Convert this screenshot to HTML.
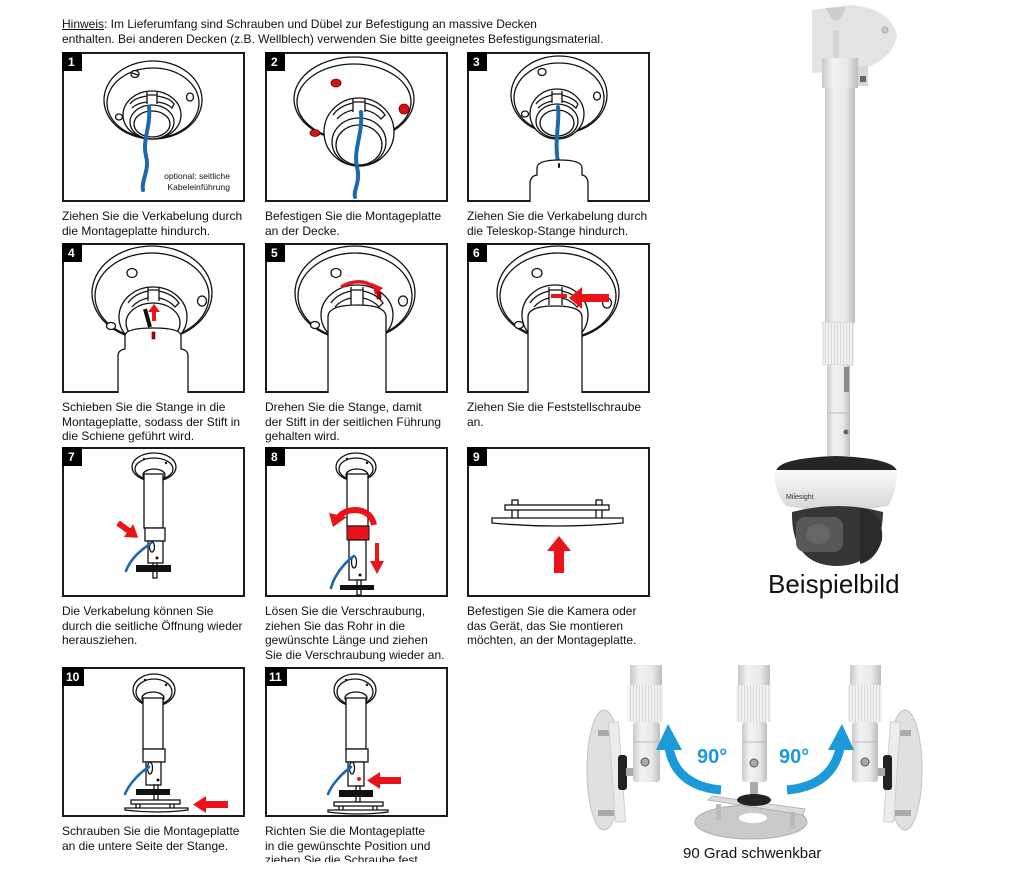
<!DOCTYPE html>
<html><head><meta charset="utf-8">
<style>
html,body{margin:0;padding:0;background:#fff}
body{width:1019px;height:876px;position:relative;overflow:hidden;font-family:"Liberation Sans",Arial,sans-serif;color:#111}
.t{position:absolute;font-size:12px;line-height:14.6px;white-space:nowrap}
svg{position:absolute;left:0;top:0}
</style></head><body>
<svg width="1019" height="876" viewBox="0 0 1019 876" xmlns="http://www.w3.org/2000/svg">
<defs>
<style>
.l{fill:#fff;stroke:#111;stroke-width:1.3}
.n{fill:none;stroke:#111;stroke-width:1.3}
.bx{fill:none;stroke:#1a1a1a;stroke-width:2}
.lb{fill:#000}
.lt{fill:#fff;font:bold 12px "Liberation Sans",Arial,sans-serif}
.cb{fill:none;stroke:#1f68ab;stroke-width:4;stroke-linecap:round}
.cb2{fill:none;stroke:#1f68ab;stroke-width:2.6;stroke-linecap:round}
.r{fill:#e8141a}
.k{fill:#111}
</style>
<linearGradient id="pg" x1="0" x2="1" y1="0" y2="0"><stop offset="0" stop-color="#c9c9c9"/><stop offset=".3" stop-color="#f2f2f2"/><stop offset=".7" stop-color="#e8e8e8"/><stop offset="1" stop-color="#bdbdbd"/></linearGradient>
<linearGradient id="bg" x1="0" x2="0" y1="0" y2="1"><stop offset="0" stop-color="#fafafa"/><stop offset="1" stop-color="#d6d6d6"/></linearGradient>
<pattern id="rib" width="3" height="10" patternUnits="userSpaceOnUse"><rect width="3" height="10" fill="#f1f1f1"/><rect width="1" height="10" fill="#d8d8d8"/></pattern>
</defs>

<!-- Panel boxes -->
<rect class="bx" x="63" y="53" width="181" height="148"/>
<rect class="bx" x="266" y="53" width="181" height="148"/>
<rect class="bx" x="468" y="53" width="181" height="148"/>
<rect class="bx" x="63" y="244" width="181" height="148"/>
<rect class="bx" x="266" y="244" width="181" height="148"/>
<rect class="bx" x="468" y="244" width="181" height="148"/>
<rect class="bx" x="63" y="448" width="181" height="148"/>
<rect class="bx" x="266" y="448" width="181" height="148"/>
<rect class="bx" x="468" y="448" width="181" height="148"/>
<rect class="bx" x="63" y="668" width="181" height="148"/>
<rect class="bx" x="266" y="668" width="181" height="148"/>

<!-- Panel 1 -->
<g transform="translate(62,52)">
<ellipse class="l" cx="91" cy="48" rx="49" ry="39"/>
<ellipse class="n" cx="91" cy="51" rx="46" ry="35"/>
<ellipse class="l" cx="73" cy="22" rx="4" ry="3.5"/><path class="n" d="M70 21 L76 23"/>
<ellipse class="l" cx="128" cy="45" rx="3.5" ry="4"/>
<ellipse class="l" cx="57" cy="65" rx="3.5" ry="3"/>
<ellipse class="l" cx="90" cy="63" rx="29" ry="24"/>
<path class="n" d="M68 52 Q72 46 85 44 L85 50 Q75 51 70 56 M95 44 Q108 46 112 52 L110 56 Q105 51 95 50 M85 40 L85 52 M95 40 L95 52 M85 43 L95 43"/>
<ellipse class="l" cx="90" cy="70" rx="22" ry="17"/>
<ellipse class="n" cx="90" cy="72" rx="18" ry="13"/>
<path class="cb" d="M87 55 C89 75 80 88 84 104 C88 118 79 128 81 138"/>
<text x="168" y="127" text-anchor="end" font-family="Liberation Sans,Arial,sans-serif" font-size="8.6" fill="#111">optional: seitliche</text>
<text x="168" y="138" text-anchor="end" font-family="Liberation Sans,Arial,sans-serif" font-size="8.6" fill="#111">Kabeleinführung</text>
<rect class="lb" x="0" y="0" width="20" height="19"/><text class="lt" x="6" y="14">1</text>
</g>

<!-- Panel 2 -->
<g transform="translate(265,52)">
<ellipse class="l" cx="89" cy="47" rx="60" ry="42"/>
<ellipse class="n" cx="89" cy="50" rx="57" ry="38"/>
<ellipse class="l" cx="94" cy="80" rx="35" ry="34"/>
<path class="n" d="M68 63 Q74 54 88 51 L88 58 Q78 60 72 67 M100 51 Q114 54 120 63 L116 67 Q110 60 100 58 M88 46 L88 60 M100 46 L100 60 M88 50 L100 50"/>
<ellipse class="l" cx="94" cy="90" rx="27" ry="24"/>
<ellipse class="n" cx="94" cy="93" rx="23" ry="20"/>
<ellipse cx="71" cy="31" rx="5" ry="4" fill="#d01414" stroke="#700" stroke-width=".8"/>
<ellipse cx="139" cy="57" rx="5" ry="5" fill="#d01414" stroke="#700" stroke-width=".8"/>
<ellipse cx="50" cy="81" rx="5" ry="3.5" fill="#d01414" stroke="#700" stroke-width=".8"/>
<path class="cb" d="M96 60 C98 82 88 98 92 115 C96 130 88 138 90 145"/>
<rect class="lb" x="0" y="0" width="20" height="19"/><text class="lt" x="6" y="14">2</text>
</g>

<!-- Panel 3 -->
<g transform="translate(467,52)">
<ellipse class="l" cx="92" cy="43" rx="48" ry="39"/>
<ellipse class="n" cx="92" cy="46" rx="45" ry="35"/>
<ellipse class="l" cx="75" cy="20" rx="4" ry="3.5"/>
<ellipse class="l" cx="130" cy="44" rx="3.5" ry="4"/>
<ellipse class="l" cx="58" cy="62" rx="3.5" ry="3"/>
<ellipse class="l" cx="90" cy="62" rx="27" ry="25"/>
<path class="n" d="M69 52 Q73 46 85 43 L85 49 Q76 51 71 56 M95 43 Q107 46 111 52 L109 56 Q104 51 95 49 M85 39 L85 51 M95 39 L95 51 M85 42 L95 42"/>
<ellipse class="l" cx="90" cy="69" rx="21" ry="17"/>
<ellipse class="n" cx="90" cy="71" rx="17" ry="13"/>
<path class="cb" d="M91 55 C93 70 87 88 91 110"/>
<path class="l" d="M63 150 L63 132 Q63 124 70 123 L70 116 Q70 108 92.5 108 Q115 108 115 116 L115 123 Q121 124 121 132 L121 150"/>
<rect x="91" y="111" width="2" height="5" rx="1" fill="#111"/>
<rect class="lb" x="0" y="0" width="20" height="19"/><text class="lt" x="6" y="14">3</text>
</g>

<!-- Panel 4 -->
<g transform="translate(62,243)">
<ellipse class="l" cx="90" cy="50" rx="60" ry="47"/>
<ellipse class="n" cx="90" cy="53" rx="57" ry="43"/>
<ellipse class="l" cx="70" cy="30" rx="5" ry="4.5"/>
<ellipse class="l" cx="140" cy="58" rx="4.5" ry="5"/>
<ellipse class="l" cx="49" cy="83" rx="4.5" ry="3.5"/>
<ellipse class="l" cx="91" cy="74" rx="34" ry="30"/>
<path class="n" d="M66 60 Q72 51 86 48 L86 55 Q76 57 70 64 M97 48 Q111 51 117 60 L113 64 Q107 57 97 55 M86 44 L86 58 M97 44 L97 58 M86 47 L97 47"/>
<ellipse class="l" cx="91" cy="80" rx="27" ry="20"/>
<path d="M83 66 L88 84" stroke="#111" stroke-width="4"/>
<path class="l" d="M56 150 L56 113 Q56 107 63 106 L63 93 Q63 85 91 85 Q119 85 119 93 L119 106 Q126 107 126 113 L126 150"/>
<rect class="r" x="90" y="68" width="4" height="10"/><polygon class="r" points="86,69 98,69 92,61"/>
<rect x="90" y="89" width="3" height="7" fill="#c00" stroke="#300" stroke-width=".6"/>
<rect class="lb" x="0" y="0" width="20" height="19"/><text class="lt" x="6" y="14">4</text>
</g>

<!-- Panel 5 -->
<g transform="translate(265,243)">
<ellipse class="l" cx="90" cy="50" rx="60" ry="47"/>
<ellipse class="n" cx="90" cy="53" rx="57" ry="43"/>
<ellipse class="l" cx="71" cy="30" rx="5" ry="4.5"/>
<ellipse class="l" cx="138" cy="58" rx="4.5" ry="5"/>
<ellipse class="l" cx="50" cy="82" rx="4.5" ry="3.5"/>
<ellipse class="l" cx="92" cy="72" rx="36" ry="30"/>
<path class="n" d="M66 60 Q72 51 86 48 L86 55 Q76 57 70 64 M98 48 Q112 51 118 60 L114 64 Q108 57 98 55 M86 44 L86 62 M98 44 L98 62 M86 47 L98 47"/>
<path class="l" d="M63 150 L63 74 Q63 62 92 62 Q121 62 121 74 L121 150"/>
<path d="M76 44 Q95 33 111 45" fill="none" stroke="#e8141a" stroke-width="3.5"/>
<polygon class="r" points="107,40 118,45 110,52"/>
<rect x="112" y="49" width="4" height="7" fill="#a00" stroke="#300" stroke-width=".6"/>
<rect class="lb" x="0" y="0" width="20" height="19"/><text class="lt" x="6" y="14">5</text>
</g>

<!-- Panel 6 -->
<g transform="translate(467,243)">
<ellipse class="l" cx="91" cy="50" rx="61" ry="47"/>
<ellipse class="n" cx="91" cy="53" rx="58" ry="43"/>
<ellipse class="l" cx="70" cy="30" rx="5" ry="4.5"/>
<ellipse class="l" cx="140" cy="60" rx="4.5" ry="5"/>
<ellipse class="l" cx="52" cy="82" rx="4.5" ry="3.5"/>
<ellipse class="l" cx="88" cy="72" rx="33" ry="30"/>
<path class="n" d="M63 60 Q69 51 82 48 L82 55 Q73 57 67 64 M95 48 Q108 51 114 60 L110 64 Q104 57 95 55 M82 44 L82 62 M95 44 L95 62 M82 47 L95 47"/>
<path class="l" d="M61 150 L61 74 Q61 63 88 63 Q115 63 115 74 L115 150"/>
<rect class="r" x="84" y="51" width="16" height="4"/>
<rect class="r" x="113" y="51" width="29" height="8"/><polygon class="r" points="115,44 115,66 102,55"/>
<rect class="lb" x="0" y="0" width="20" height="19"/><text class="lt" x="6" y="14">6</text>
</g>

<!-- Panel 7 -->
<g transform="translate(62,447)">
<ellipse class="l" cx="92" cy="20" rx="22" ry="14"/>
<ellipse class="n" cx="92" cy="22" rx="19" ry="11"/>
<circle cx="82" cy="12" r="1.2" fill="#111"/><circle cx="104" cy="16" r="1.2" fill="#111"/>
<ellipse class="l" cx="92" cy="28" rx="11" ry="6"/>
<rect class="l" x="82" y="27" width="19" height="54"/>
<rect class="l" x="83" y="81" width="20" height="13"/>
<rect class="l" x="86" y="94" width="15" height="22"/>
<ellipse class="l" cx="90" cy="100" rx="2.5" ry="5"/>
<circle cx="95" cy="111" r="1.5" fill="#111"/>
<rect class="l" x="91" y="116" width="4" height="15"/>
<rect class="k" x="74" y="118" width="35" height="7"/>
<path class="cb2" d="M89 96 C84 100 70 108 64 124"/>
<g transform="translate(56,76) rotate(36)"><rect class="r" x="0" y="-3" width="15" height="6"/><polygon class="r" points="13,-8 13,8 25,0"/></g>
<rect class="lb" x="0" y="0" width="20" height="19"/><text class="lt" x="6" y="14">7</text>
</g>

<!-- Panel 8 -->
<g transform="translate(265,447)">
<ellipse class="l" cx="91" cy="20" rx="20" ry="14"/>
<ellipse class="n" cx="91" cy="22" rx="17" ry="11"/>
<circle cx="82" cy="12" r="1.2" fill="#111"/><circle cx="102" cy="16" r="1.2" fill="#111"/>
<ellipse class="l" cx="92" cy="28" rx="11" ry="6"/>
<rect class="l" x="82" y="27" width="21" height="52"/>
<rect x="82" y="79" width="22" height="14" fill="#e8141a" stroke="#111" stroke-width="1"/>
<rect class="l" x="84" y="93" width="17" height="40"/>
<ellipse class="l" cx="89" cy="115" rx="2.5" ry="6"/>
<circle cx="95" cy="128" r="1.5" fill="#111"/>
<rect class="l" x="92" y="133" width="4" height="15"/>
<rect class="k" x="75" y="138" width="34" height="5"/>
<path class="cb2" d="M89 109 C84 112 70 125 66 141"/>
<path d="M109 78 Q106 64 91 63 Q79 63 74 70" fill="none" stroke="#e8141a" stroke-width="6"/>
<polygon class="r" points="64,66 82,70 68,80"/>
<rect class="r" x="110" y="96" width="4" height="20"/><polygon class="r" points="105,114 119,114 112,127"/>
<rect class="lb" x="0" y="0" width="20" height="19"/><text class="lt" x="6" y="14">8</text>
</g>

<!-- Panel 9 -->
<g transform="translate(467,447)">
<rect class="l" x="45" y="53" width="6" height="19"/>
<rect class="l" x="129" y="53" width="6" height="19"/>
<rect class="l" x="38" y="58" width="104" height="5"/>
<path class="l" d="M25 71 L156 71 L156 76 Q90 82 25 76 Z"/>
<rect class="r" x="87" y="102" width="10" height="24"/><polygon class="r" points="80,104 104,104 92,89"/>
<rect class="lb" x="0" y="0" width="20" height="19"/><text class="lt" x="6" y="14">9</text>
</g>

<!-- Panel 10 -->
<g transform="translate(62,667)">
<ellipse class="l" cx="92" cy="23" rx="21" ry="16"/>
<ellipse class="n" cx="92" cy="25" rx="18" ry="13"/>
<circle cx="83" cy="13" r="1.2" fill="#111"/><circle cx="104" cy="18" r="1.2" fill="#111"/>
<ellipse class="l" cx="91" cy="31" rx="11" ry="6"/>
<rect class="l" x="81" y="31" width="20" height="51"/>
<rect class="l" x="81" y="82" width="22" height="13"/>
<rect class="l" x="84" y="95" width="15" height="23"/>
<ellipse class="l" cx="88" cy="101" rx="2.5" ry="6"/>
<circle cx="96" cy="113" r="1.5" fill="#111"/>
<rect class="l" x="92" y="118" width="4" height="15"/>
<rect class="k" x="74" y="122" width="34" height="6"/>
<rect class="l" x="74" y="136" width="4" height="6"/><rect class="l" x="108" y="136" width="4" height="6"/>
<rect class="l" x="69" y="133" width="49" height="4"/>
<path class="l" d="M63 141 L126 141 L126 143 Q95 147 63 143 Z"/>
<path class="cb2" d="M87 100 C80 104 68 115 63 127"/>
<rect class="r" x="142" y="134" width="24" height="7"/><polygon class="r" points="144,129 144,146 131,137.5"/>
<rect class="lb" x="0" y="0" width="22" height="19"/><text class="lt" x="4" y="14">10</text>
</g>

<!-- Panel 11 -->
<g transform="translate(265,667)">
<ellipse class="l" cx="90" cy="23" rx="21" ry="16"/>
<ellipse class="n" cx="90" cy="25" rx="18" ry="13"/>
<circle cx="81" cy="13" r="1.2" fill="#111"/><circle cx="102" cy="18" r="1.2" fill="#111"/>
<ellipse class="l" cx="91" cy="31" rx="11" ry="6"/>
<rect class="l" x="81" y="31" width="20" height="51"/>
<rect class="l" x="81" y="82" width="22" height="13"/>
<rect class="l" x="83" y="95" width="16" height="24"/>
<ellipse class="l" cx="87" cy="101" rx="2.5" ry="6"/>
<circle cx="94" cy="112" r="2" fill="#e8141a"/>
<rect class="l" x="91" y="119" width="4" height="16"/>
<rect class="k" x="74" y="123" width="34" height="7"/>
<rect class="l" x="74" y="138" width="4" height="6"/><rect class="l" x="108" y="138" width="4" height="6"/>
<rect class="l" x="69" y="135" width="49" height="4"/>
<path class="l" d="M63 143 L123 143 L123 145 Q93 149 63 145 Z"/>
<path class="cb2" d="M86 100 C80 104 68 115 63 127"/>
<rect class="r" x="113" y="110" width="23" height="7"/><polygon class="r" points="115,105 115,122 102,113.5"/>
<rect class="lb" x="0" y="0" width="22" height="19"/><text class="lt" x="4" y="14">11</text>
</g>

<!-- Right photo: pole + camera -->
<g>
<path d="M812 10 L850 5 Q890 8 897 35 Q893 60 860 70 L812 73 Z" fill="#e3e3e3"/>
<path d="M826 8 Q836 34 846 7 Z" fill="#cdcdcd"/>
<path d="M836 30 L836 70" stroke="#d4d4d4" stroke-width="6"/>
<circle cx="885" cy="30" r="3" fill="#c8c8c8" stroke="#aaa"/>
<rect x="858" y="66" width="10" height="20" fill="#d8d8d8"/>
<rect x="860" y="76" width="6" height="6" fill="#666"/>
<rect x="822" y="58" width="36" height="30" fill="url(#pg)"/>
<rect x="825" y="88" width="30" height="235" fill="url(#pg)"/>
<rect x="823" y="322" width="30" height="43" fill="url(#rib)"/>
<rect x="823" y="322" width="30" height="43" fill="none" stroke="#d0d0d0" stroke-width=".8"/>
<rect x="827" y="365" width="23" height="91" fill="url(#pg)"/>
<rect x="844" y="367" width="5" height="25" fill="#8a8a8a"/>
<line x1="827" y1="413" x2="850" y2="413" stroke="#b8b8b8" stroke-width="1"/>
<circle cx="846" cy="432" r="2.5" fill="#666"/>
<path d="M776 471 Q779 458 836 456 Q893 458 897 471 Z" fill="#262626"/>
<path d="M774 470 L897 470 Q897 492 888 506 Q836 516 786 506 Q774 492 774 470 Z" fill="url(#bg)"/>
<text x="786" y="499" font-family="Liberation Sans,Arial,sans-serif" font-size="7" fill="#333">Milesight</text>
<path d="M792 512 Q791 566 838 566 Q882 565 883 512 Q838 500 792 512 Z" fill="#363636"/>
<path d="M860 508 Q884 512 882 540 Q876 560 860 564 Z" fill="#2a2a2a"/>
<rect x="796" y="517" width="47" height="35" rx="9" fill="#585858"/>
<ellipse cx="818" cy="534" rx="12" ry="10" fill="#666"/>
</g>

<!-- Bottom photo: 90 degree -->
<g>
<!-- left -->
<ellipse cx="604" cy="770" rx="17" ry="60" fill="#e0e0e0" stroke="#c4c4c4"/>
<rect x="598" y="730" width="16" height="6" fill="#aaa"/><rect x="598" y="810" width="16" height="6" fill="#aaa"/>
<rect x="612" y="722" width="10" height="100" fill="#ececec" stroke="#cfcfcf" transform="rotate(-4 617 772)"/>
<rect x="618" y="755" width="9" height="35" rx="3" fill="#222"/>
<rect x="626" y="768" width="9" height="8" fill="#aaa"/>
<rect x="630" y="665" width="32" height="21" fill="url(#pg)"/>
<rect x="628" y="685" width="35" height="37" fill="url(#rib)"/>
<rect x="633" y="722" width="27" height="60" rx="3" fill="url(#pg)"/>
<line x1="633" y1="742" x2="660" y2="742" stroke="#bbb"/>
<circle cx="645" cy="762" r="4" fill="#aaa" stroke="#555"/>
<!-- center -->
<rect x="738" y="665" width="32" height="21" fill="url(#pg)"/>
<rect x="736" y="685" width="35" height="37" fill="url(#rib)"/>
<rect x="742" y="722" width="25" height="60" rx="3" fill="url(#pg)"/>
<line x1="742" y1="742" x2="767" y2="742" stroke="#bbb"/>
<circle cx="754" cy="763" r="4" fill="#aaa" stroke="#555"/>
<ellipse cx="751" cy="822" rx="56" ry="17" fill="#cacaca" stroke="#b0b0b0"/>
<ellipse cx="753" cy="818" rx="14" ry="5" fill="#fff"/>
<path d="M708 800 L712 796 L805 809 L803 815 Z" fill="#dcdcdc" stroke="#aaa" stroke-width=".8"/>
<rect x="716" y="804" width="5" height="16" fill="#bbb"/><rect x="790" y="812" width="5" height="16" fill="#bbb"/>
<rect x="750" y="782" width="8" height="14" fill="#aaa"/>
<ellipse cx="754" cy="800" rx="17" ry="6" fill="#222"/>
<!-- right -->
<ellipse cx="905" cy="770" rx="17" ry="60" fill="#e0e0e0" stroke="#c4c4c4"/>
<rect x="895" y="730" width="16" height="6" fill="#aaa"/><rect x="895" y="810" width="16" height="6" fill="#aaa"/>
<rect x="887" y="722" width="10" height="100" fill="#ececec" stroke="#cfcfcf" transform="rotate(4 892 772)"/>
<rect x="883" y="755" width="9" height="35" rx="3" fill="#222"/>
<rect x="876" y="768" width="9" height="8" fill="#aaa"/>
<rect x="850" y="665" width="31" height="21" fill="url(#pg)"/>
<rect x="848" y="685" width="34" height="37" fill="url(#rib)"/>
<rect x="852" y="722" width="26" height="60" rx="3" fill="url(#pg)"/>
<line x1="852" y1="742" x2="878" y2="742" stroke="#bbb"/>
<circle cx="865" cy="762" r="4" fill="#aaa" stroke="#555"/>
<!-- arrows -->
<path d="M721 790 Q676 786 669 748" fill="none" stroke="#1c9ad8" stroke-width="9"/>
<polygon points="656,750 682,750 668,724" fill="#1c9ad8"/>
<path d="M787 790 Q832 786 840 748" fill="none" stroke="#1c9ad8" stroke-width="9"/>
<polygon points="828,750 854,750 842,724" fill="#1c9ad8"/>
<text x="697" y="763" font-family="Liberation Sans,Arial,sans-serif" font-weight="bold" font-size="20" fill="#1c9ad8">90°</text>
<text x="779" y="763" font-family="Liberation Sans,Arial,sans-serif" font-weight="bold" font-size="20" fill="#1c9ad8">90°</text>
</g>
</svg>

<div class="t" style="left:62px;top:17px;line-height:15px"><u>Hinweis</u>: Im Lieferumfang sind Schrauben und Dübel zur Befestigung an massive Decken<br>enthalten. Bei anderen Decken (z.B. Wellblech) verwenden Sie bitte geeignetes Befestigungsmaterial.</div>

<div class="t" style="left:62px;top:209px">Ziehen Sie die Verkabelung durch<br>die Montageplatte hindurch.</div>
<div class="t" style="left:265px;top:209px">Befestigen Sie die Montageplatte<br>an der Decke.</div>
<div class="t" style="left:467px;top:209px">Ziehen Sie die Verkabelung durch<br>die Teleskop-Stange hindurch.</div>

<div class="t" style="left:62px;top:400px">Schieben Sie die Stange in die<br>Montageplatte, sodass der Stift in<br>die Schiene geführt wird.</div>
<div class="t" style="left:265px;top:400px">Drehen Sie die Stange, damit<br>der Stift in der seitlichen Führung<br>gehalten wird.</div>
<div class="t" style="left:467px;top:400px">Ziehen Sie die Feststellschraube<br>an.</div>

<div class="t" style="left:62px;top:604px">Die Verkabelung können Sie<br>durch die seitliche Öffnung wieder<br>herausziehen.</div>
<div class="t" style="left:265px;top:604px">Lösen Sie die Verschraubung,<br>ziehen Sie das Rohr in die<br>gewünschte Länge und ziehen<br>Sie die Verschraubung wieder an.</div>
<div class="t" style="left:467px;top:604px">Befestigen Sie die Kamera oder<br>das Gerät, das Sie montieren<br>möchten, an der Montageplatte.</div>

<div class="t" style="left:62px;top:824px">Schrauben Sie die Montageplatte<br>an die untere Seite der Stange.</div>
<div class="t" style="left:265px;top:824px;height:38px;overflow:hidden">Richten Sie die Montageplatte<br>in die gewünschte Position und<br>ziehen Sie die Schraube fest</div>

<div class="t" style="left:768px;top:571px;font-size:26px;line-height:26px;color:#111">Beispielbild</div>
<div class="t" style="left:683px;top:846px;font-size:15px;line-height:15px;color:#111">90 Grad schwenkbar</div>
</body></html>
